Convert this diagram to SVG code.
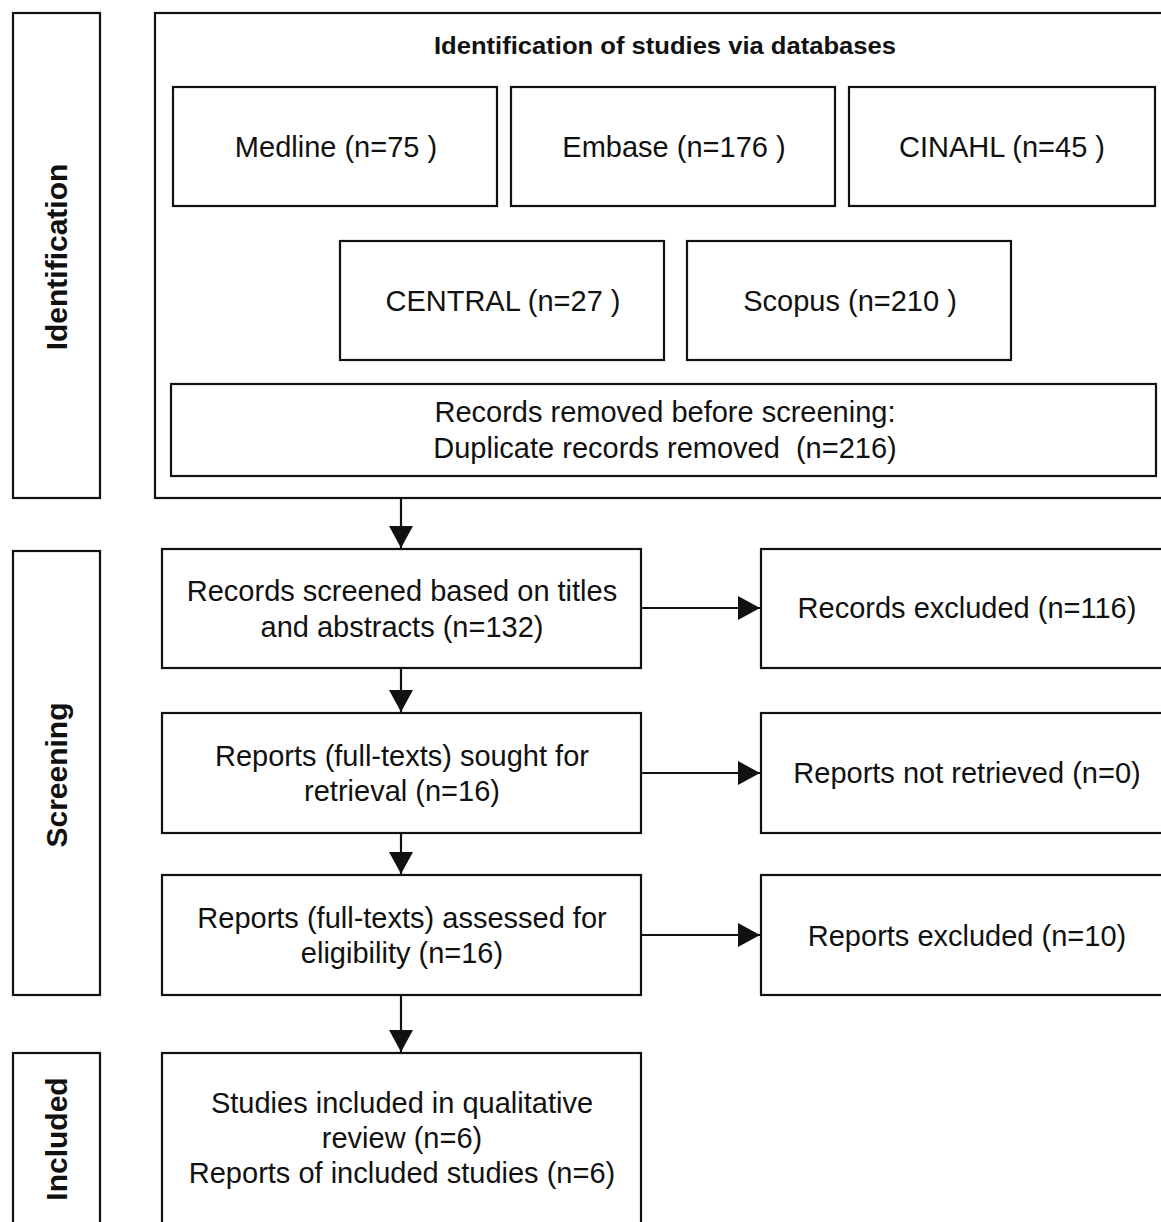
<svg xmlns="http://www.w3.org/2000/svg" width="1161" height="1222" viewBox="0 0 1161 1222">
<style>
.box{fill:#fff;stroke:#111;stroke-width:2.2}
.t{font-family:"Liberation Sans",Arial,sans-serif;font-size:29px;fill:#111;text-anchor:middle}
.v{font-family:"Liberation Sans",Arial,sans-serif;font-size:30px;font-weight:bold;fill:#111;text-anchor:middle}
.h{font-family:"Liberation Sans",Arial,sans-serif;font-size:23px;font-weight:bold;fill:#111;text-anchor:middle}
.c{stroke:#111;stroke-width:2.2;fill:none}
</style>
<defs>
<marker id="ah" markerUnits="userSpaceOnUse" markerWidth="24" markerHeight="24" viewBox="0 0 24 24" refX="22" refY="12" orient="auto">
<path d="M0,0 L22,12 L0,24 Z" fill="#111"/>
</marker>
</defs>
<rect width="1161" height="1222" fill="#fff"/>
<g id="phase-identification"><rect class="box" x="13" y="13" width="87" height="485"/><text class="v" transform="translate(67,257) rotate(-90)">Identification</text></g>
<g id="phase-screening"><rect class="box" x="13" y="551" width="87" height="444"/><text class="v" transform="translate(67,775) rotate(-90)">Screening</text></g>
<g id="phase-included"><rect class="box" x="13" y="1053" width="87" height="200"/><text class="v" transform="translate(67,1139) rotate(-90)">Included</text></g>
<g id="identification-container"><rect class="box" x="155" y="13" width="1030" height="485"/><text class="h" x="665" y="54" textLength="462" lengthAdjust="spacingAndGlyphs">Identification of studies via databases</text></g>
<g id="medline"><rect class="box" x="173" y="87" width="324" height="119"/><text class="t" x="336" y="157">Medline (n=75 )</text></g>
<g id="embase"><rect class="box" x="511" y="87" width="324" height="119"/><text class="t" x="674" y="157">Embase (n=176 )</text></g>
<g id="cinahl"><rect class="box" x="849" y="87" width="306" height="119"/><text class="t" x="1002" y="157">CINAHL (n=45 )</text></g>
<g id="central"><rect class="box" x="340" y="241" width="324" height="119"/><text class="t" x="503" y="311">CENTRAL (n=27 )</text></g>
<g id="scopus"><rect class="box" x="687" y="241" width="324" height="119"/><text class="t" x="850" y="311">Scopus (n=210 )</text></g>
<g id="removed"><rect class="box" x="171" y="384" width="985" height="92"/><text class="t" x="665" y="422">Records removed before screening:</text><text class="t" x="665" y="458">Duplicate records removed &#160;(n=216)</text></g>
<g id="screened"><rect class="box" x="162" y="549" width="479" height="119"/><text class="t" x="402" y="601">Records screened based on titles</text><text class="t" x="402" y="637">and abstracts (n=132)</text></g>
<g id="excluded"><rect class="box" x="761" y="549" width="420" height="119"/><text class="t" x="967" y="618">Records excluded (n=116)</text></g>
<g id="sought"><rect class="box" x="162" y="713" width="479" height="120"/><text class="t" x="402" y="766">Reports (full-texts) sought for</text><text class="t" x="402" y="801">retrieval (n=16)</text></g>
<g id="not-retrieved"><rect class="box" x="761" y="713" width="420" height="120"/><text class="t" x="967" y="783">Reports not retrieved (n=0)</text></g>
<g id="assessed"><rect class="box" x="162" y="875" width="479" height="120"/><text class="t" x="402" y="928">Reports (full-texts) assessed for</text><text class="t" x="402" y="963">eligibility (n=16)</text></g>
<g id="reports-excluded"><rect class="box" x="761" y="875" width="420" height="120"/><text class="t" x="967" y="946">Reports excluded (n=10)</text></g>
<g id="included"><rect class="box" x="162" y="1053" width="479" height="200"/><text class="t" x="402" y="1113">Studies included in qualitative</text><text class="t" x="402" y="1148">review (n=6)</text><text class="t" x="402" y="1183">Reports of included studies (n=6)</text></g>
<g id="connectors">
<line class="c" x1="401" y1="499" x2="401" y2="548" marker-end="url(#ah)"/>
<line class="c" x1="401" y1="668" x2="401" y2="712" marker-end="url(#ah)"/>
<line class="c" x1="401" y1="833" x2="401" y2="874" marker-end="url(#ah)"/>
<line class="c" x1="401" y1="995" x2="401" y2="1052" marker-end="url(#ah)"/>
<line class="c" x1="641" y1="608" x2="760" y2="608" marker-end="url(#ah)"/>
<line class="c" x1="641" y1="773" x2="760" y2="773" marker-end="url(#ah)"/>
<line class="c" x1="641" y1="935" x2="760" y2="935" marker-end="url(#ah)"/>
</g>
</svg>
